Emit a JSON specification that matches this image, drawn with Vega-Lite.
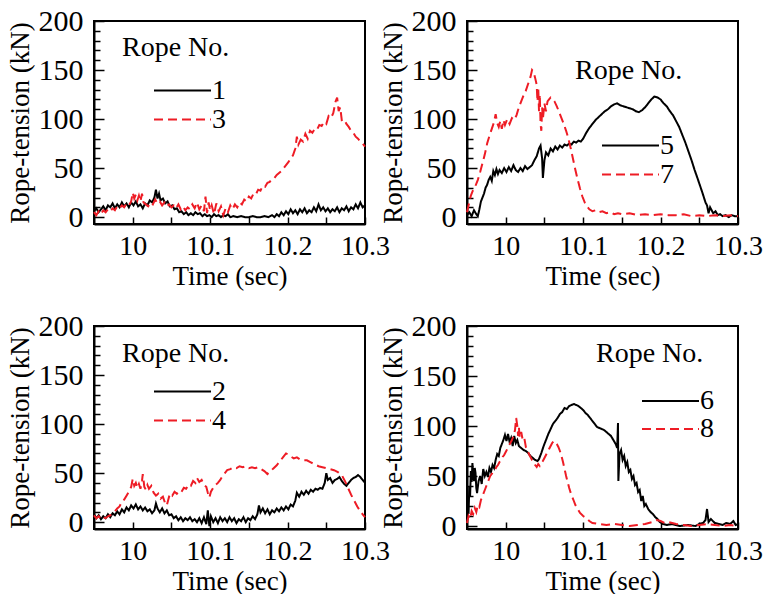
{
"$schema":"https://vega.github.io/schema/vega-lite/v6.json",
"background":"white",
"padding":{"left":5,"top":5,"right":0,"bottom":0},
"config":{
 "font":"Liberation Serif",
 "view":{"stroke":"black","strokeWidth":2},
 "axis":{"grid":false,"domainColor":"black","domainWidth":2,"tickColor":"black","tickWidth":1.5,"labelFont":"Liberation Serif","labelFontSize":28,"labelColor":"black","labelFlush":false,"labelOverlap":false,"titleFont":"Liberation Serif","titleFontSize":27,"titleFontWeight":"normal","titleColor":"black"},
 "axisX":{"labelPadding":15,"titlePadding":3},
 "axisY":{"labelPadding":21,"titlePadding":4,"labelFontSize":30},
 "legend":{"titleFont":"Liberation Serif","titleFontSize":28,"titleFontWeight":"normal","titleColor":"black","labelFont":"Liberation Serif","labelFontSize":28,"labelColor":"black","symbolType":"stroke","symbolSize":3249,"symbolStrokeWidth":2,"rowPadding":0,"padding":0,"titleAnchor":"start"}
},
"columns":2,
"spacing":{"row":102,"column":102},
"bounds":"flush",
"resolve":{"scale":{"color":"independent","strokeDash":"independent","x":"independent","y":"independent"},"legend":{"color":"independent","strokeDash":"independent"}},
"datasets":{
"d1":[
{"r":"1","t":9.95,"v":6},{"r":"1","t":9.953,"v":9},{"r":"1","t":9.956,"v":5},{"r":"1","t":9.959,"v":8},{"r":"1","t":9.962,"v":11},{"r":"1","t":9.965,"v":7},{"r":"1","t":9.968,"v":12},{"r":"1","t":9.971,"v":10},{"r":"1","t":9.974,"v":14},{"r":"1","t":9.977,"v":9},{"r":"1","t":9.98,"v":13},{"r":"1","t":9.983,"v":10},{"r":"1","t":9.986,"v":15},{"r":"1","t":9.989,"v":11},{"r":"1","t":9.992,"v":14},{"r":"1","t":9.995,"v":10},{"r":"1","t":9.998,"v":15},{"r":"1","t":10.001,"v":12},{"r":"1","t":10.004,"v":16},{"r":"1","t":10.007,"v":11},{"r":"1","t":10.01,"v":13},{"r":"1","t":10.013,"v":9},{"r":"1","t":10.016,"v":14},{"r":"1","t":10.019,"v":12},{"r":"1","t":10.022,"v":17},{"r":"1","t":10.025,"v":15},{"r":"1","t":10.028,"v":20},{"r":"1","t":10.03,"v":28},{"r":"1","t":10.032,"v":19},{"r":"1","t":10.034,"v":24},{"r":"1","t":10.036,"v":17},{"r":"1","t":10.039,"v":19},{"r":"1","t":10.042,"v":14},{"r":"1","t":10.045,"v":16},{"r":"1","t":10.048,"v":11},{"r":"1","t":10.051,"v":12},{"r":"1","t":10.054,"v":8},{"r":"1","t":10.057,"v":9},{"r":"1","t":10.06,"v":5},{"r":"1","t":10.063,"v":6},{"r":"1","t":10.066,"v":3},{"r":"1","t":10.069,"v":5},{"r":"1","t":10.072,"v":2},{"r":"1","t":10.075,"v":4},{"r":"1","t":10.078,"v":2},{"r":"1","t":10.081,"v":5},{"r":"1","t":10.084,"v":3},{"r":"1","t":10.087,"v":4},{"r":"1","t":10.09,"v":1},{"r":"1","t":10.093,"v":3},{"r":"1","t":10.096,"v":1},{"r":"1","t":10.099,"v":2},{"r":"1","t":10.102,"v":0},{"r":"1","t":10.105,"v":3},{"r":"1","t":10.108,"v":1},{"r":"1","t":10.111,"v":2},{"r":"1","t":10.114,"v":0},{"r":"1","t":10.117,"v":2},{"r":"1","t":10.12,"v":1},{"r":"1","t":10.123,"v":3},{"r":"1","t":10.126,"v":0},{"r":"1","t":10.13,"v":1},{"r":"1","t":10.135,"v":0},{"r":"1","t":10.14,"v":1},{"r":"1","t":10.145,"v":0},{"r":"1","t":10.15,"v":0},{"r":"1","t":10.155,"v":1},{"r":"1","t":10.16,"v":0},{"r":"1","t":10.165,"v":0},{"r":"1","t":10.17,"v":1},{"r":"1","t":10.175,"v":0},{"r":"1","t":10.18,"v":2},{"r":"1","t":10.183,"v":0},{"r":"1","t":10.186,"v":3},{"r":"1","t":10.189,"v":1},{"r":"1","t":10.192,"v":5},{"r":"1","t":10.195,"v":2},{"r":"1","t":10.198,"v":6},{"r":"1","t":10.201,"v":3},{"r":"1","t":10.204,"v":8},{"r":"1","t":10.207,"v":4},{"r":"1","t":10.21,"v":7},{"r":"1","t":10.213,"v":3},{"r":"1","t":10.216,"v":8},{"r":"1","t":10.219,"v":5},{"r":"1","t":10.222,"v":9},{"r":"1","t":10.225,"v":4},{"r":"1","t":10.228,"v":7},{"r":"1","t":10.231,"v":5},{"r":"1","t":10.234,"v":10},{"r":"1","t":10.237,"v":6},{"r":"1","t":10.24,"v":13},{"r":"1","t":10.243,"v":7},{"r":"1","t":10.246,"v":10},{"r":"1","t":10.249,"v":6},{"r":"1","t":10.252,"v":9},{"r":"1","t":10.255,"v":5},{"r":"1","t":10.258,"v":8},{"r":"1","t":10.261,"v":6},{"r":"1","t":10.264,"v":10},{"r":"1","t":10.267,"v":5},{"r":"1","t":10.27,"v":9},{"r":"1","t":10.273,"v":7},{"r":"1","t":10.276,"v":11},{"r":"1","t":10.279,"v":6},{"r":"1","t":10.282,"v":10},{"r":"1","t":10.285,"v":8},{"r":"1","t":10.288,"v":13},{"r":"1","t":10.291,"v":9},{"r":"1","t":10.294,"v":15},{"r":"1","t":10.297,"v":10},{"r":"1","t":10.3,"v":12},
{"r":"3","t":9.95,"v":5},{"r":"3","t":9.953,"v":2},{"r":"3","t":9.956,"v":6},{"r":"3","t":9.959,"v":3},{"r":"3","t":9.962,"v":7},{"r":"3","t":9.965,"v":5},{"r":"3","t":9.968,"v":8},{"r":"3","t":9.971,"v":6},{"r":"3","t":9.974,"v":9},{"r":"3","t":9.977,"v":7},{"r":"3","t":9.98,"v":11},{"r":"3","t":9.983,"v":9},{"r":"3","t":9.986,"v":12},{"r":"3","t":9.989,"v":10},{"r":"3","t":9.992,"v":14},{"r":"3","t":9.995,"v":12},{"r":"3","t":9.998,"v":16},{"r":"3","t":10.0,"v":25},{"r":"3","t":10.002,"v":19},{"r":"3","t":10.004,"v":23},{"r":"3","t":10.006,"v":17},{"r":"3","t":10.008,"v":22},{"r":"3","t":10.01,"v":16},{"r":"3","t":10.012,"v":24},{"r":"3","t":10.014,"v":15},{"r":"3","t":10.017,"v":13},{"r":"3","t":10.02,"v":11},{"r":"3","t":10.023,"v":15},{"r":"3","t":10.026,"v":13},{"r":"3","t":10.029,"v":18},{"r":"3","t":10.032,"v":14},{"r":"3","t":10.035,"v":16},{"r":"3","t":10.038,"v":12},{"r":"3","t":10.041,"v":15},{"r":"3","t":10.044,"v":11},{"r":"3","t":10.047,"v":13},{"r":"3","t":10.05,"v":10},{"r":"3","t":10.053,"v":12},{"r":"3","t":10.056,"v":9},{"r":"3","t":10.059,"v":13},{"r":"3","t":10.062,"v":8},{"r":"3","t":10.065,"v":11},{"r":"3","t":10.068,"v":7},{"r":"3","t":10.071,"v":10},{"r":"3","t":10.074,"v":8},{"r":"3","t":10.077,"v":13},{"r":"3","t":10.08,"v":9},{"r":"3","t":10.083,"v":15},{"r":"3","t":10.086,"v":8},{"r":"3","t":10.089,"v":12},{"r":"3","t":10.092,"v":6},{"r":"3","t":10.094,"v":21},{"r":"3","t":10.096,"v":4},{"r":"3","t":10.098,"v":15},{"r":"3","t":10.1,"v":7},{"r":"3","t":10.102,"v":12},{"r":"3","t":10.105,"v":3},{"r":"3","t":10.108,"v":14},{"r":"3","t":10.111,"v":6},{"r":"3","t":10.114,"v":11},{"r":"3","t":10.117,"v":2},{"r":"3","t":10.12,"v":9},{"r":"3","t":10.123,"v":5},{"r":"3","t":10.126,"v":12},{"r":"3","t":10.129,"v":8},{"r":"3","t":10.132,"v":13},{"r":"3","t":10.135,"v":10},{"r":"3","t":10.138,"v":15},{"r":"3","t":10.141,"v":13},{"r":"3","t":10.144,"v":18},{"r":"3","t":10.147,"v":16},{"r":"3","t":10.15,"v":21},{"r":"3","t":10.153,"v":19},{"r":"3","t":10.156,"v":24},{"r":"3","t":10.159,"v":23},{"r":"3","t":10.162,"v":28},{"r":"3","t":10.165,"v":27},{"r":"3","t":10.168,"v":32},{"r":"3","t":10.171,"v":31},{"r":"3","t":10.174,"v":35},{"r":"3","t":10.177,"v":36},{"r":"3","t":10.18,"v":39},{"r":"3","t":10.183,"v":40},{"r":"3","t":10.186,"v":43},{"r":"3","t":10.189,"v":45},{"r":"3","t":10.192,"v":47},{"r":"3","t":10.195,"v":50},{"r":"3","t":10.198,"v":53},{"r":"3","t":10.201,"v":56},{"r":"3","t":10.204,"v":60},{"r":"3","t":10.207,"v":63},{"r":"3","t":10.21,"v":70},{"r":"3","t":10.212,"v":82},{"r":"3","t":10.214,"v":74},{"r":"3","t":10.217,"v":79},{"r":"3","t":10.22,"v":77},{"r":"3","t":10.223,"v":85},{"r":"3","t":10.226,"v":80},{"r":"3","t":10.229,"v":88},{"r":"3","t":10.232,"v":86},{"r":"3","t":10.235,"v":90},{"r":"3","t":10.238,"v":89},{"r":"3","t":10.241,"v":94},{"r":"3","t":10.244,"v":93},{"r":"3","t":10.247,"v":97},{"r":"3","t":10.25,"v":95},{"r":"3","t":10.253,"v":103},{"r":"3","t":10.256,"v":101},{"r":"3","t":10.259,"v":106},{"r":"3","t":10.262,"v":118},{"r":"3","t":10.264,"v":122},{"r":"3","t":10.266,"v":108},{"r":"3","t":10.268,"v":112},{"r":"3","t":10.27,"v":99},{"r":"3","t":10.273,"v":100},{"r":"3","t":10.276,"v":95},{"r":"3","t":10.279,"v":92},{"r":"3","t":10.282,"v":88},{"r":"3","t":10.285,"v":86},{"r":"3","t":10.288,"v":82},{"r":"3","t":10.291,"v":80},{"r":"3","t":10.294,"v":77},{"r":"3","t":10.297,"v":75},{"r":"3","t":10.3,"v":72}
],
"d2":[
{"r":"5","t":9.95,"v":2},{"r":"5","t":9.953,"v":5},{"r":"5","t":9.956,"v":1},{"r":"5","t":9.959,"v":7},{"r":"5","t":9.962,"v":3},{"r":"5","t":9.964,"v":1},{"r":"5","t":9.966,"v":8},{"r":"5","t":9.968,"v":16},{"r":"5","t":9.97,"v":20},{"r":"5","t":9.972,"v":24},{"r":"5","t":9.974,"v":30},{"r":"5","t":9.976,"v":33},{"r":"5","t":9.978,"v":38},{"r":"5","t":9.98,"v":41},{"r":"5","t":9.982,"v":37},{"r":"5","t":9.984,"v":47},{"r":"5","t":9.986,"v":43},{"r":"5","t":9.988,"v":49},{"r":"5","t":9.99,"v":44},{"r":"5","t":9.992,"v":48},{"r":"5","t":9.995,"v":45},{"r":"5","t":9.998,"v":50},{"r":"5","t":10.001,"v":46},{"r":"5","t":10.004,"v":51},{"r":"5","t":10.007,"v":47},{"r":"5","t":10.01,"v":53},{"r":"5","t":10.013,"v":48},{"r":"5","t":10.016,"v":46},{"r":"5","t":10.019,"v":50},{"r":"5","t":10.022,"v":47},{"r":"5","t":10.025,"v":52},{"r":"5","t":10.028,"v":49},{"r":"5","t":10.031,"v":51},{"r":"5","t":10.034,"v":53},{"r":"5","t":10.037,"v":58},{"r":"5","t":10.04,"v":62},{"r":"5","t":10.043,"v":70},{"r":"5","t":10.045,"v":73},{"r":"5","t":10.047,"v":60},{"r":"5","t":10.048,"v":40},{"r":"5","t":10.05,"v":58},{"r":"5","t":10.052,"v":66},{"r":"5","t":10.055,"v":63},{"r":"5","t":10.058,"v":70},{"r":"5","t":10.061,"v":67},{"r":"5","t":10.064,"v":72},{"r":"5","t":10.067,"v":69},{"r":"5","t":10.07,"v":73},{"r":"5","t":10.073,"v":71},{"r":"5","t":10.076,"v":74},{"r":"5","t":10.079,"v":73},{"r":"5","t":10.082,"v":75},{"r":"5","t":10.085,"v":74},{"r":"5","t":10.088,"v":77},{"r":"5","t":10.091,"v":76},{"r":"5","t":10.094,"v":78},{"r":"5","t":10.097,"v":77},{"r":"5","t":10.1,"v":80},{"r":"5","t":10.104,"v":86},{"r":"5","t":10.108,"v":91},{"r":"5","t":10.112,"v":95},{"r":"5","t":10.116,"v":99},{"r":"5","t":10.12,"v":102},{"r":"5","t":10.124,"v":105},{"r":"5","t":10.128,"v":108},{"r":"5","t":10.132,"v":110},{"r":"5","t":10.136,"v":113},{"r":"5","t":10.14,"v":115},{"r":"5","t":10.144,"v":116},{"r":"5","t":10.148,"v":114},{"r":"5","t":10.152,"v":113},{"r":"5","t":10.156,"v":112},{"r":"5","t":10.16,"v":111},{"r":"5","t":10.164,"v":110},{"r":"5","t":10.168,"v":108},{"r":"5","t":10.172,"v":107},{"r":"5","t":10.176,"v":109},{"r":"5","t":10.18,"v":112},{"r":"5","t":10.184,"v":116},{"r":"5","t":10.188,"v":120},{"r":"5","t":10.192,"v":123},{"r":"5","t":10.196,"v":122},{"r":"5","t":10.2,"v":120},{"r":"5","t":10.204,"v":116},{"r":"5","t":10.208,"v":113},{"r":"5","t":10.212,"v":108},{"r":"5","t":10.216,"v":104},{"r":"5","t":10.22,"v":98},{"r":"5","t":10.224,"v":92},{"r":"5","t":10.228,"v":84},{"r":"5","t":10.232,"v":76},{"r":"5","t":10.236,"v":67},{"r":"5","t":10.24,"v":58},{"r":"5","t":10.244,"v":48},{"r":"5","t":10.248,"v":39},{"r":"5","t":10.251,"v":32},{"r":"5","t":10.254,"v":25},{"r":"5","t":10.256,"v":20},{"r":"5","t":10.258,"v":15},{"r":"5","t":10.26,"v":12},{"r":"5","t":10.262,"v":4},{"r":"5","t":10.264,"v":10},{"r":"5","t":10.266,"v":7},{"r":"5","t":10.268,"v":4},{"r":"5","t":10.271,"v":6},{"r":"5","t":10.274,"v":2},{"r":"5","t":10.277,"v":3},{"r":"5","t":10.28,"v":1},{"r":"5","t":10.284,"v":2},{"r":"5","t":10.288,"v":0},{"r":"5","t":10.292,"v":2},{"r":"5","t":10.296,"v":1},{"r":"5","t":10.3,"v":1},
{"r":"7","t":9.95,"v":5},{"r":"7","t":9.952,"v":12},{"r":"7","t":9.955,"v":22},{"r":"7","t":9.958,"v":28},{"r":"7","t":9.961,"v":32},{"r":"7","t":9.964,"v":38},{"r":"7","t":9.967,"v":46},{"r":"7","t":9.97,"v":55},{"r":"7","t":9.973,"v":64},{"r":"7","t":9.976,"v":75},{"r":"7","t":9.979,"v":83},{"r":"7","t":9.982,"v":90},{"r":"7","t":9.985,"v":97},{"r":"7","t":9.987,"v":105},{"r":"7","t":9.989,"v":96},{"r":"7","t":9.991,"v":92},{"r":"7","t":9.993,"v":98},{"r":"7","t":9.995,"v":90},{"r":"7","t":9.997,"v":99},{"r":"7","t":9.999,"v":94},{"r":"7","t":10.002,"v":100},{"r":"7","t":10.005,"v":95},{"r":"7","t":10.008,"v":101},{"r":"7","t":10.011,"v":99},{"r":"7","t":10.014,"v":104},{"r":"7","t":10.017,"v":112},{"r":"7","t":10.02,"v":118},{"r":"7","t":10.023,"v":124},{"r":"7","t":10.026,"v":129},{"r":"7","t":10.029,"v":136},{"r":"7","t":10.032,"v":143},{"r":"7","t":10.034,"v":150},{"r":"7","t":10.036,"v":148},{"r":"7","t":10.038,"v":142},{"r":"7","t":10.04,"v":135},{"r":"7","t":10.041,"v":118},{"r":"7","t":10.042,"v":132},{"r":"7","t":10.043,"v":108},{"r":"7","t":10.044,"v":125},{"r":"7","t":10.045,"v":95},{"r":"7","t":10.046,"v":88},{"r":"7","t":10.047,"v":112},{"r":"7","t":10.048,"v":100},{"r":"7","t":10.05,"v":116},{"r":"7","t":10.052,"v":108},{"r":"7","t":10.054,"v":118},{"r":"7","t":10.056,"v":120},{"r":"7","t":10.058,"v":122},{"r":"7","t":10.06,"v":121},{"r":"7","t":10.063,"v":118},{"r":"7","t":10.066,"v":113},{"r":"7","t":10.069,"v":107},{"r":"7","t":10.072,"v":101},{"r":"7","t":10.075,"v":95},{"r":"7","t":10.078,"v":88},{"r":"7","t":10.081,"v":80},{"r":"7","t":10.084,"v":70},{"r":"7","t":10.087,"v":59},{"r":"7","t":10.09,"v":48},{"r":"7","t":10.093,"v":38},{"r":"7","t":10.096,"v":29},{"r":"7","t":10.099,"v":21},{"r":"7","t":10.102,"v":15},{"r":"7","t":10.105,"v":11},{"r":"7","t":10.108,"v":8},{"r":"7","t":10.112,"v":6},{"r":"7","t":10.116,"v":7},{"r":"7","t":10.12,"v":5},{"r":"7","t":10.125,"v":6},{"r":"7","t":10.13,"v":4},{"r":"7","t":10.135,"v":5},{"r":"7","t":10.14,"v":3},{"r":"7","t":10.145,"v":4},{"r":"7","t":10.15,"v":3},{"r":"7","t":10.16,"v":4},{"r":"7","t":10.17,"v":2},{"r":"7","t":10.18,"v":3},{"r":"7","t":10.19,"v":2},{"r":"7","t":10.2,"v":3},{"r":"7","t":10.21,"v":2},{"r":"7","t":10.22,"v":2},{"r":"7","t":10.23,"v":3},{"r":"7","t":10.24,"v":1},{"r":"7","t":10.25,"v":2},{"r":"7","t":10.26,"v":1},{"r":"7","t":10.27,"v":2},{"r":"7","t":10.28,"v":1},{"r":"7","t":10.29,"v":2},{"r":"7","t":10.3,"v":1}
],
"d3":[
{"r":"2","t":9.95,"v":8},{"r":"2","t":9.953,"v":4},{"r":"2","t":9.956,"v":7},{"r":"2","t":9.959,"v":3},{"r":"2","t":9.962,"v":6},{"r":"2","t":9.965,"v":4},{"r":"2","t":9.968,"v":8},{"r":"2","t":9.971,"v":5},{"r":"2","t":9.974,"v":9},{"r":"2","t":9.977,"v":7},{"r":"2","t":9.98,"v":11},{"r":"2","t":9.983,"v":8},{"r":"2","t":9.986,"v":13},{"r":"2","t":9.989,"v":10},{"r":"2","t":9.992,"v":15},{"r":"2","t":9.995,"v":12},{"r":"2","t":9.998,"v":17},{"r":"2","t":10.001,"v":14},{"r":"2","t":10.004,"v":18},{"r":"2","t":10.007,"v":13},{"r":"2","t":10.01,"v":16},{"r":"2","t":10.013,"v":12},{"r":"2","t":10.016,"v":15},{"r":"2","t":10.019,"v":11},{"r":"2","t":10.022,"v":13},{"r":"2","t":10.025,"v":9},{"r":"2","t":10.028,"v":12},{"r":"2","t":10.03,"v":19},{"r":"2","t":10.032,"v":14},{"r":"2","t":10.035,"v":10},{"r":"2","t":10.038,"v":14},{"r":"2","t":10.041,"v":9},{"r":"2","t":10.044,"v":12},{"r":"2","t":10.047,"v":7},{"r":"2","t":10.05,"v":8},{"r":"2","t":10.053,"v":4},{"r":"2","t":10.056,"v":6},{"r":"2","t":10.059,"v":2},{"r":"2","t":10.062,"v":5},{"r":"2","t":10.065,"v":1},{"r":"2","t":10.068,"v":4},{"r":"2","t":10.071,"v":2},{"r":"2","t":10.074,"v":5},{"r":"2","t":10.077,"v":1},{"r":"2","t":10.08,"v":3},{"r":"2","t":10.083,"v":0},{"r":"2","t":10.086,"v":4},{"r":"2","t":10.089,"v":-1},{"r":"2","t":10.092,"v":5},{"r":"2","t":10.095,"v":-2},{"r":"2","t":10.097,"v":12},{"r":"2","t":10.099,"v":-4},{"r":"2","t":10.101,"v":6},{"r":"2","t":10.104,"v":0},{"r":"2","t":10.107,"v":4},{"r":"2","t":10.11,"v":-1},{"r":"2","t":10.113,"v":5},{"r":"2","t":10.116,"v":1},{"r":"2","t":10.119,"v":4},{"r":"2","t":10.122,"v":0},{"r":"2","t":10.125,"v":5},{"r":"2","t":10.128,"v":1},{"r":"2","t":10.131,"v":4},{"r":"2","t":10.134,"v":-1},{"r":"2","t":10.137,"v":3},{"r":"2","t":10.14,"v":1},{"r":"2","t":10.143,"v":5},{"r":"2","t":10.146,"v":0},{"r":"2","t":10.149,"v":4},{"r":"2","t":10.152,"v":2},{"r":"2","t":10.155,"v":6},{"r":"2","t":10.158,"v":3},{"r":"2","t":10.161,"v":8},{"r":"2","t":10.163,"v":17},{"r":"2","t":10.165,"v":10},{"r":"2","t":10.168,"v":14},{"r":"2","t":10.171,"v":9},{"r":"2","t":10.174,"v":13},{"r":"2","t":10.177,"v":8},{"r":"2","t":10.18,"v":12},{"r":"2","t":10.183,"v":10},{"r":"2","t":10.186,"v":14},{"r":"2","t":10.189,"v":11},{"r":"2","t":10.192,"v":15},{"r":"2","t":10.195,"v":12},{"r":"2","t":10.198,"v":16},{"r":"2","t":10.201,"v":13},{"r":"2","t":10.204,"v":18},{"r":"2","t":10.207,"v":16},{"r":"2","t":10.21,"v":22},{"r":"2","t":10.212,"v":30},{"r":"2","t":10.215,"v":26},{"r":"2","t":10.218,"v":31},{"r":"2","t":10.221,"v":28},{"r":"2","t":10.224,"v":32},{"r":"2","t":10.227,"v":29},{"r":"2","t":10.23,"v":33},{"r":"2","t":10.233,"v":31},{"r":"2","t":10.236,"v":34},{"r":"2","t":10.239,"v":33},{"r":"2","t":10.242,"v":35},{"r":"2","t":10.245,"v":34},{"r":"2","t":10.248,"v":40},{"r":"2","t":10.25,"v":50},{"r":"2","t":10.252,"v":43},{"r":"2","t":10.255,"v":45},{"r":"2","t":10.258,"v":40},{"r":"2","t":10.261,"v":43},{"r":"2","t":10.264,"v":44},{"r":"2","t":10.267,"v":46},{"r":"2","t":10.27,"v":42},{"r":"2","t":10.273,"v":39},{"r":"2","t":10.276,"v":37},{"r":"2","t":10.279,"v":40},{"r":"2","t":10.282,"v":43},{"r":"2","t":10.285,"v":45},{"r":"2","t":10.288,"v":46},{"r":"2","t":10.291,"v":48},{"r":"2","t":10.294,"v":46},{"r":"2","t":10.297,"v":43},{"r":"2","t":10.3,"v":40},
{"r":"4","t":9.95,"v":7},{"r":"4","t":9.953,"v":4},{"r":"4","t":9.956,"v":6},{"r":"4","t":9.959,"v":3},{"r":"4","t":9.962,"v":5},{"r":"4","t":9.965,"v":4},{"r":"4","t":9.968,"v":6},{"r":"4","t":9.971,"v":7},{"r":"4","t":9.974,"v":9},{"r":"4","t":9.977,"v":11},{"r":"4","t":9.98,"v":14},{"r":"4","t":9.983,"v":16},{"r":"4","t":9.986,"v":21},{"r":"4","t":9.989,"v":23},{"r":"4","t":9.992,"v":27},{"r":"4","t":9.995,"v":31},{"r":"4","t":9.998,"v":36},{"r":"4","t":10.0,"v":44},{"r":"4","t":10.002,"v":37},{"r":"4","t":10.004,"v":40},{"r":"4","t":10.006,"v":35},{"r":"4","t":10.008,"v":39},{"r":"4","t":10.01,"v":34},{"r":"4","t":10.012,"v":42},{"r":"4","t":10.013,"v":49},{"r":"4","t":10.015,"v":36},{"r":"4","t":10.017,"v":33},{"r":"4","t":10.019,"v":38},{"r":"4","t":10.021,"v":34},{"r":"4","t":10.024,"v":37},{"r":"4","t":10.027,"v":30},{"r":"4","t":10.03,"v":27},{"r":"4","t":10.033,"v":29},{"r":"4","t":10.036,"v":24},{"r":"4","t":10.039,"v":26},{"r":"4","t":10.042,"v":19},{"r":"4","t":10.044,"v":17},{"r":"4","t":10.046,"v":23},{"r":"4","t":10.048,"v":29},{"r":"4","t":10.051,"v":27},{"r":"4","t":10.054,"v":31},{"r":"4","t":10.057,"v":29},{"r":"4","t":10.06,"v":32},{"r":"4","t":10.063,"v":31},{"r":"4","t":10.066,"v":35},{"r":"4","t":10.069,"v":34},{"r":"4","t":10.072,"v":38},{"r":"4","t":10.075,"v":37},{"r":"4","t":10.078,"v":42},{"r":"4","t":10.081,"v":40},{"r":"4","t":10.083,"v":45},{"r":"4","t":10.086,"v":41},{"r":"4","t":10.089,"v":43},{"r":"4","t":10.092,"v":38},{"r":"4","t":10.095,"v":36},{"r":"4","t":10.097,"v":30},{"r":"4","t":10.099,"v":25},{"r":"4","t":10.101,"v":31},{"r":"4","t":10.104,"v":35},{"r":"4","t":10.107,"v":38},{"r":"4","t":10.11,"v":40},{"r":"4","t":10.113,"v":43},{"r":"4","t":10.116,"v":47},{"r":"4","t":10.119,"v":50},{"r":"4","t":10.122,"v":53},{"r":"4","t":10.126,"v":54},{"r":"4","t":10.13,"v":56},{"r":"4","t":10.134,"v":55},{"r":"4","t":10.138,"v":57},{"r":"4","t":10.142,"v":56},{"r":"4","t":10.146,"v":57},{"r":"4","t":10.15,"v":55},{"r":"4","t":10.154,"v":56},{"r":"4","t":10.158,"v":55},{"r":"4","t":10.162,"v":56},{"r":"4","t":10.166,"v":54},{"r":"4","t":10.17,"v":52},{"r":"4","t":10.174,"v":49},{"r":"4","t":10.178,"v":52},{"r":"4","t":10.182,"v":55},{"r":"4","t":10.186,"v":58},{"r":"4","t":10.19,"v":62},{"r":"4","t":10.194,"v":66},{"r":"4","t":10.198,"v":70},{"r":"4","t":10.201,"v":69},{"r":"4","t":10.204,"v":67},{"r":"4","t":10.208,"v":65},{"r":"4","t":10.212,"v":66},{"r":"4","t":10.216,"v":64},{"r":"4","t":10.22,"v":63},{"r":"4","t":10.225,"v":63},{"r":"4","t":10.23,"v":61},{"r":"4","t":10.235,"v":59},{"r":"4","t":10.24,"v":57},{"r":"4","t":10.245,"v":56},{"r":"4","t":10.25,"v":55},{"r":"4","t":10.255,"v":54},{"r":"4","t":10.26,"v":53},{"r":"4","t":10.265,"v":51},{"r":"4","t":10.27,"v":48},{"r":"4","t":10.274,"v":42},{"r":"4","t":10.278,"v":35},{"r":"4","t":10.282,"v":28},{"r":"4","t":10.286,"v":22},{"r":"4","t":10.29,"v":16},{"r":"4","t":10.294,"v":11},{"r":"4","t":10.297,"v":8},{"r":"4","t":10.3,"v":5}
],
"d4":[
{"r":"6","t":9.95,"v":5},{"r":"6","t":9.951,"v":22},{"r":"6","t":9.952,"v":12},{"r":"6","t":9.953,"v":40},{"r":"6","t":9.954,"v":30},{"r":"6","t":9.955,"v":55},{"r":"6","t":9.956,"v":44},{"r":"6","t":9.957,"v":63},{"r":"6","t":9.958,"v":50},{"r":"6","t":9.959,"v":45},{"r":"6","t":9.96,"v":58},{"r":"6","t":9.961,"v":53},{"r":"6","t":9.962,"v":38},{"r":"6","t":9.963,"v":33},{"r":"6","t":9.965,"v":45},{"r":"6","t":9.967,"v":50},{"r":"6","t":9.969,"v":42},{"r":"6","t":9.971,"v":57},{"r":"6","t":9.973,"v":50},{"r":"6","t":9.975,"v":54},{"r":"6","t":9.977,"v":49},{"r":"6","t":9.979,"v":58},{"r":"6","t":9.981,"v":54},{"r":"6","t":9.983,"v":61},{"r":"6","t":9.985,"v":58},{"r":"6","t":9.987,"v":66},{"r":"6","t":9.989,"v":72},{"r":"6","t":9.991,"v":70},{"r":"6","t":9.993,"v":78},{"r":"6","t":9.995,"v":82},{"r":"6","t":9.997,"v":86},{"r":"6","t":9.999,"v":91},{"r":"6","t":10.001,"v":85},{"r":"6","t":10.003,"v":92},{"r":"6","t":10.005,"v":84},{"r":"6","t":10.007,"v":88},{"r":"6","t":10.009,"v":80},{"r":"6","t":10.011,"v":90},{"r":"6","t":10.013,"v":83},{"r":"6","t":10.015,"v":86},{"r":"6","t":10.017,"v":80},{"r":"6","t":10.02,"v":78},{"r":"6","t":10.023,"v":76},{"r":"6","t":10.026,"v":75},{"r":"6","t":10.029,"v":73},{"r":"6","t":10.032,"v":70},{"r":"6","t":10.035,"v":68},{"r":"6","t":10.038,"v":66},{"r":"6","t":10.041,"v":65},{"r":"6","t":10.043,"v":67},{"r":"6","t":10.046,"v":73},{"r":"6","t":10.049,"v":80},{"r":"6","t":10.052,"v":86},{"r":"6","t":10.055,"v":92},{"r":"6","t":10.058,"v":97},{"r":"6","t":10.061,"v":102},{"r":"6","t":10.064,"v":105},{"r":"6","t":10.067,"v":108},{"r":"6","t":10.07,"v":112},{"r":"6","t":10.073,"v":114},{"r":"6","t":10.076,"v":118},{"r":"6","t":10.079,"v":117},{"r":"6","t":10.082,"v":120},{"r":"6","t":10.085,"v":121},{"r":"6","t":10.088,"v":122},{"r":"6","t":10.091,"v":121},{"r":"6","t":10.094,"v":120},{"r":"6","t":10.097,"v":118},{"r":"6","t":10.1,"v":116},{"r":"6","t":10.103,"v":113},{"r":"6","t":10.106,"v":111},{"r":"6","t":10.109,"v":108},{"r":"6","t":10.112,"v":105},{"r":"6","t":10.115,"v":102},{"r":"6","t":10.118,"v":99},{"r":"6","t":10.121,"v":98},{"r":"6","t":10.124,"v":97},{"r":"6","t":10.127,"v":96},{"r":"6","t":10.13,"v":94},{"r":"6","t":10.133,"v":92},{"r":"6","t":10.136,"v":90},{"r":"6","t":10.139,"v":86},{"r":"6","t":10.142,"v":82},{"r":"6","t":10.144,"v":78},{"r":"6","t":10.145,"v":103},{"r":"6","t":10.1455,"v":45},{"r":"6","t":10.147,"v":72},{"r":"6","t":10.149,"v":76},{"r":"6","t":10.151,"v":66},{"r":"6","t":10.153,"v":70},{"r":"6","t":10.155,"v":60},{"r":"6","t":10.157,"v":64},{"r":"6","t":10.159,"v":54},{"r":"6","t":10.161,"v":56},{"r":"6","t":10.163,"v":47},{"r":"6","t":10.165,"v":50},{"r":"6","t":10.167,"v":41},{"r":"6","t":10.169,"v":43},{"r":"6","t":10.171,"v":34},{"r":"6","t":10.173,"v":36},{"r":"6","t":10.175,"v":25},{"r":"6","t":10.177,"v":30},{"r":"6","t":10.179,"v":20},{"r":"6","t":10.181,"v":22},{"r":"6","t":10.184,"v":17},{"r":"6","t":10.187,"v":14},{"r":"6","t":10.19,"v":12},{"r":"6","t":10.193,"v":9},{"r":"6","t":10.196,"v":7},{"r":"6","t":10.199,"v":4},{"r":"6","t":10.203,"v":2},{"r":"6","t":10.208,"v":1},{"r":"6","t":10.215,"v":2},{"r":"6","t":10.225,"v":0},{"r":"6","t":10.235,"v":1},{"r":"6","t":10.245,"v":0},{"r":"6","t":10.25,"v":2},{"r":"6","t":10.255,"v":3},{"r":"6","t":10.258,"v":6},{"r":"6","t":10.26,"v":17},{"r":"6","t":10.262,"v":4},{"r":"6","t":10.265,"v":7},{"r":"6","t":10.27,"v":3},{"r":"6","t":10.275,"v":2},{"r":"6","t":10.28,"v":1},{"r":"6","t":10.285,"v":3},{"r":"6","t":10.29,"v":2},{"r":"6","t":10.294,"v":5},{"r":"6","t":10.297,"v":1},{"r":"6","t":10.3,"v":2},
{"r":"8","t":9.95,"v":3},{"r":"8","t":9.952,"v":10},{"r":"8","t":9.954,"v":7},{"r":"8","t":9.956,"v":15},{"r":"8","t":9.958,"v":12},{"r":"8","t":9.96,"v":18},{"r":"8","t":9.962,"v":14},{"r":"8","t":9.964,"v":21},{"r":"8","t":9.966,"v":19},{"r":"8","t":9.968,"v":26},{"r":"8","t":9.97,"v":30},{"r":"8","t":9.972,"v":34},{"r":"8","t":9.974,"v":38},{"r":"8","t":9.976,"v":42},{"r":"8","t":9.978,"v":46},{"r":"8","t":9.98,"v":50},{"r":"8","t":9.982,"v":52},{"r":"8","t":9.984,"v":55},{"r":"8","t":9.986,"v":56},{"r":"8","t":9.988,"v":59},{"r":"8","t":9.99,"v":61},{"r":"8","t":9.992,"v":64},{"r":"8","t":9.994,"v":66},{"r":"8","t":9.996,"v":69},{"r":"8","t":9.998,"v":71},{"r":"8","t":10.0,"v":74},{"r":"8","t":10.002,"v":77},{"r":"8","t":10.004,"v":80},{"r":"8","t":10.006,"v":83},{"r":"8","t":10.008,"v":86},{"r":"8","t":10.01,"v":90},{"r":"8","t":10.012,"v":96},{"r":"8","t":10.0135,"v":108},{"r":"8","t":10.015,"v":100},{"r":"8","t":10.016,"v":90},{"r":"8","t":10.017,"v":99},{"r":"8","t":10.018,"v":88},{"r":"8","t":10.02,"v":94},{"r":"8","t":10.022,"v":86},{"r":"8","t":10.024,"v":88},{"r":"8","t":10.026,"v":79},{"r":"8","t":10.028,"v":76},{"r":"8","t":10.03,"v":72},{"r":"8","t":10.032,"v":69},{"r":"8","t":10.034,"v":66},{"r":"8","t":10.036,"v":64},{"r":"8","t":10.038,"v":61},{"r":"8","t":10.04,"v":59},{"r":"8","t":10.042,"v":62},{"r":"8","t":10.044,"v":60},{"r":"8","t":10.046,"v":63},{"r":"8","t":10.048,"v":65},{"r":"8","t":10.05,"v":68},{"r":"8","t":10.052,"v":71},{"r":"8","t":10.054,"v":74},{"r":"8","t":10.056,"v":77},{"r":"8","t":10.058,"v":80},{"r":"8","t":10.06,"v":83},{"r":"8","t":10.062,"v":85},{"r":"8","t":10.064,"v":84},{"r":"8","t":10.066,"v":82},{"r":"8","t":10.068,"v":79},{"r":"8","t":10.07,"v":75},{"r":"8","t":10.072,"v":70},{"r":"8","t":10.074,"v":64},{"r":"8","t":10.076,"v":57},{"r":"8","t":10.078,"v":50},{"r":"8","t":10.08,"v":44},{"r":"8","t":10.082,"v":38},{"r":"8","t":10.084,"v":33},{"r":"8","t":10.086,"v":29},{"r":"8","t":10.088,"v":25},{"r":"8","t":10.09,"v":21},{"r":"8","t":10.093,"v":17},{"r":"8","t":10.096,"v":13},{"r":"8","t":10.1,"v":10},{"r":"8","t":10.104,"v":8},{"r":"8","t":10.108,"v":5},{"r":"8","t":10.112,"v":3},{"r":"8","t":10.12,"v":2},{"r":"8","t":10.13,"v":1},{"r":"8","t":10.14,"v":2},{"r":"8","t":10.15,"v":1},{"r":"8","t":10.16,"v":0},{"r":"8","t":10.17,"v":1},{"r":"8","t":10.18,"v":2},{"r":"8","t":10.19,"v":4},{"r":"8","t":10.195,"v":6},{"r":"8","t":10.2,"v":5},{"r":"8","t":10.205,"v":3},{"r":"8","t":10.21,"v":4},{"r":"8","t":10.22,"v":2},{"r":"8","t":10.23,"v":1},{"r":"8","t":10.24,"v":0},{"r":"8","t":10.25,"v":1},{"r":"8","t":10.26,"v":2},{"r":"8","t":10.27,"v":1},{"r":"8","t":10.28,"v":0},{"r":"8","t":10.29,"v":1},{"r":"8","t":10.3,"v":0}
]
},
"concat":[
{"width":271,"height":203,"data":{"name":"d1"},"mark":{"type":"line","strokeWidth":2},
 "encoding":{
  "x":{"field":"t","type":"quantitative","scale":{"domain":[9.95,10.3],"nice":false,"zero":false},"axis":{"title":"Time (sec)","values":[10,10.05,10.1,10.15,10.2,10.25,10.3],"labelExpr":"abs(datum.value*10-round(datum.value*10))<0.001 ? format(datum.value,'.3~f') : ''","tickSize":-7}},
  "y":{"field":"v","type":"quantitative","scale":{"domain":[-7,200],"nice":false,"zero":false},"axis":{"title":"Rope-tension (kN)","values":[0,10,20,30,40,50,60,70,80,90,100,110,120,130,140,150,160,170,180,190,200],"labelExpr":"datum.value % 50 === 0 ? datum.label : ''","tickSize":{"condition":{"test":"datum.value % 50 === 0","value":-10},"value":-6}}},
  "color":{"field":"r","type":"nominal","scale":{"domain":["1","3"],"range":["#000000","#ee1c25"]},"legend":{"title":"Rope No.","orient":"none","legendX":28,"legendY":13,"titlePadding":15,"clipHeight":27,"symbolOffset":31,"labelOffset":0}},
  "strokeDash":{"field":"r","type":"nominal","scale":{"domain":["1","3"],"range":[[1,0],[9,5]]},"legend":{"title":"Rope No.","orient":"none","legendX":28,"legendY":13,"titlePadding":15,"clipHeight":27,"symbolOffset":31,"labelOffset":0}}
 }},
{"width":271,"height":203,"data":{"name":"d2"},"mark":{"type":"line","strokeWidth":2},
 "encoding":{
  "x":{"field":"t","type":"quantitative","scale":{"domain":[9.95,10.3],"nice":false,"zero":false},"axis":{"title":"Time (sec)","values":[10,10.05,10.1,10.15,10.2,10.25,10.3],"labelExpr":"abs(datum.value*10-round(datum.value*10))<0.001 ? format(datum.value,'.3~f') : ''","tickSize":-7}},
  "y":{"field":"v","type":"quantitative","scale":{"domain":[-7,200],"nice":false,"zero":false},"axis":{"title":"Rope-tension (kN)","values":[0,10,20,30,40,50,60,70,80,90,100,110,120,130,140,150,160,170,180,190,200],"labelExpr":"datum.value % 50 === 0 ? datum.label : ''","tickSize":{"condition":{"test":"datum.value % 50 === 0","value":-10},"value":-6}}},
  "color":{"field":"r","type":"nominal","scale":{"domain":["5","7"],"range":["#000000","#ee1c25"]},"legend":{"title":"Rope No.","orient":"none","legendX":108,"legendY":36,"titlePadding":47,"clipHeight":27,"symbolOffset":26,"labelOffset":0}},
  "strokeDash":{"field":"r","type":"nominal","scale":{"domain":["5","7"],"range":[[1,0],[9,5]]},"legend":{"title":"Rope No.","orient":"none","legendX":108,"legendY":36,"titlePadding":47,"clipHeight":27,"symbolOffset":26,"labelOffset":0}}
 }},
{"width":271,"height":203,"data":{"name":"d3"},"mark":{"type":"line","strokeWidth":2},
 "encoding":{
  "x":{"field":"t","type":"quantitative","scale":{"domain":[9.95,10.3],"nice":false,"zero":false},"axis":{"title":"Time (sec)","values":[10,10.05,10.1,10.15,10.2,10.25,10.3],"labelExpr":"abs(datum.value*10-round(datum.value*10))<0.001 ? format(datum.value,'.3~f') : ''","tickSize":-7}},
  "y":{"field":"v","type":"quantitative","scale":{"domain":[-7,200],"nice":false,"zero":false},"axis":{"title":"Rope-tension (kN)","values":[0,10,20,30,40,50,60,70,80,90,100,110,120,130,140,150,160,170,180,190,200],"labelExpr":"datum.value % 50 === 0 ? datum.label : ''","tickSize":{"condition":{"test":"datum.value % 50 === 0","value":-10},"value":-6}}},
  "color":{"field":"r","type":"nominal","scale":{"domain":["2","4"],"range":["#000000","#ee1c25"]},"legend":{"title":"Rope No.","orient":"none","legendX":28,"legendY":14,"titlePadding":10,"clipHeight":27,"symbolOffset":31,"labelOffset":0}},
  "strokeDash":{"field":"r","type":"nominal","scale":{"domain":["2","4"],"range":[[1,0],[9,5]]},"legend":{"title":"Rope No.","orient":"none","legendX":28,"legendY":14,"titlePadding":10,"clipHeight":27,"symbolOffset":31,"labelOffset":0}}
 }},
{"width":271,"height":203,"data":{"name":"d4"},"mark":{"type":"line","strokeWidth":2},
 "encoding":{
  "x":{"field":"t","type":"quantitative","scale":{"domain":[9.95,10.3],"nice":false,"zero":false},"axis":{"title":"Time (sec)","values":[10,10.05,10.1,10.15,10.2,10.25,10.3],"labelExpr":"abs(datum.value*10-round(datum.value*10))<0.001 ? format(datum.value,'.3~f') : ''","tickSize":-7}},
  "y":{"field":"v","type":"quantitative","scale":{"domain":[-3,200],"nice":false,"zero":false},"axis":{"title":"Rope-tension (kN)","values":[0,10,20,30,40,50,60,70,80,90,100,110,120,130,140,150,160,170,180,190,200],"labelExpr":"datum.value % 50 === 0 ? datum.label : ''","tickSize":{"condition":{"test":"datum.value % 50 === 0","value":-10},"value":-6}}},
  "color":{"field":"r","type":"nominal","scale":{"domain":["6","8"],"range":["#000000","#ee1c25"]},"legend":{"title":"Rope No.","orient":"none","legendX":129,"legendY":14,"titlePadding":19,"clipHeight":28,"symbolOffset":45,"labelOffset":0}},
  "strokeDash":{"field":"r","type":"nominal","scale":{"domain":["6","8"],"range":[[1,0],[9,5]]},"legend":{"title":"Rope No.","orient":"none","legendX":129,"legendY":14,"titlePadding":19,"clipHeight":28,"symbolOffset":45,"labelOffset":0}}
 }}
]
}
